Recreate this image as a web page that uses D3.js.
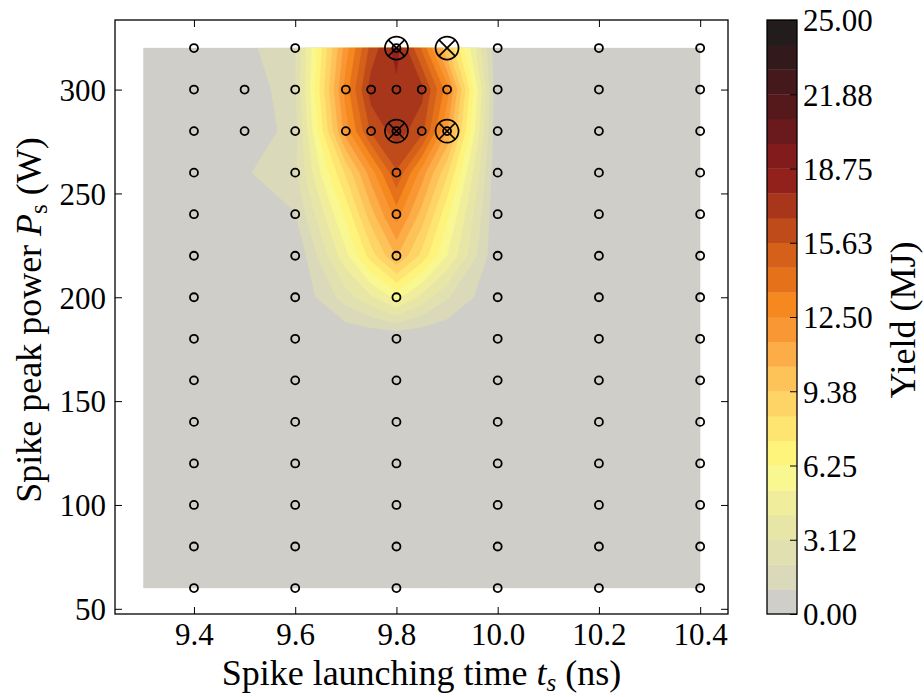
<!DOCTYPE html>
<html><head><meta charset="utf-8">
<script src="https://cdn.jsdelivr.net/npm/d3@7"></script>
<style>
body{margin:0;background:#fff}
text{font-family:"Liberation Serif","Times New Roman",serif;fill:#000}
</style>
</head><body>
<svg id="chart" width="924" height="697"></svg>
<script>
// ---- data grid (spike launching time in ns, spike peak power in W) ----
const times  = [9.3, 9.4, 9.5, 9.6, 9.7, 9.75, 9.8, 9.85, 9.9, 10.0, 10.2, 10.4];
const powers = [320, 300, 280, 260, 240, 220, 200, 180, 160, 140, 120, 100, 80, 60];
// yield (MJ) per row, one value per time column
const yieldP320 = [0, 0, 0.7, 2.0, 12.0, 16.0, 18.2, 14.4, 9.5, 0, 0, 0];
const yieldP300 = [0, 0, 0.0, 2.0, 13.0, 17.2, 17.4, 17.0, 13.0, 0, 0, 0];
const yieldP280 = [0, 0, 0.0, 1.6, 12.0, 15.8, 17.2, 16.0, 11.5, 0, 0, 0];
const yieldP260 = [0, 0, 0.9, 1.9, 8.5, 12.0, 15.5, 12.0, 8.5, 0, 0, 0];
const yieldP240 = [0, 0, 0.5, 1.0, 6.5, 10.0, 13.0, 10.0, 6.5, 0, 0, 0];
const yieldP220 = [0, 0, 0.0, 0.0, 4.9, 7.8, 10.5, 8.0, 5.2, 0, 0, 0];
const yieldP200 = [0, 0, 0.0, 0.0, 2.6, 4.0, 5.5, 3.8, 2.2, 0, 0, 0];
const yieldP180 = [0, 0, 0, 0, 0, 0, 0, 0, 0, 0, 0, 0];
const yieldP160 = [0, 0, 0, 0, 0, 0, 0, 0, 0, 0, 0, 0];
const yieldP140 = [0, 0, 0, 0, 0, 0, 0, 0, 0, 0, 0, 0];
const yieldP120 = [0, 0, 0, 0, 0, 0, 0, 0, 0, 0, 0, 0];
const yieldP100 = [0, 0, 0, 0, 0, 0, 0, 0, 0, 0, 0, 0];
const yieldP80  = [0, 0, 0, 0, 0, 0, 0, 0, 0, 0, 0, 0];
const yieldP60  = [0, 0, 0, 0, 0, 0, 0, 0, 0, 0, 0, 0];

// simulated sample points
const sampleTimes  = [9.4, 9.6, 9.8, 10.0, 10.2, 10.4];
const samplePowers = [60, 80, 100, 120, 140, 160, 180, 200, 220, 240, 260, 280, 300, 320];
const extraTimes   = [9.5, 9.7, 9.75, 9.85, 9.9];
const extraPowers  = [280, 300];
// highlighted (crossed) points
const markTimes  = [9.8, 9.9, 9.8, 9.9];
const markPowers = [320, 320, 280, 280];

// ticks
const xTicks = [9.4, 9.6, 9.8, 10.0, 10.2, 10.4];
const yTicks = [50, 100, 150, 200, 250, 300];
const cbarTicks = [0, 3.125, 6.25, 9.375, 12.5, 15.625, 18.75, 21.875, 25];
const cbarTickLabels = ["0.00","3.12","6.25","9.38","12.50","15.63","18.75","21.88","25.00"];
const levelMax = 25, levelCount = 24;
const bandColors = ["#cfcec8","#dad9b9","#e1e0b0","#e8e6a7","#f0ee9d","#f9f78f",
  "#fef47c","#fee470","#fed466","#fdc258","#fcad48","#fa9735",
  "#f5881e","#e5721a","#d4601a","#bf4b1a","#a8361a","#93211b",
  "#821c1c","#6a1a1c","#56191b","#45191b","#321a1c","#231c1c"];

// ---- layout ----
const svg = d3.select("#chart");
const plot = {left:115, right:728, top:20, bottom:614};
const x = d3.scaleLinear().domain([9.244, 10.455]).range([plot.left, plot.right]);
const y = d3.scaleLinear().domain([47.5, 333.5]).range([plot.bottom, plot.top]);
const levels = d3.range(levelCount + 1).map(i => i * levelMax / levelCount);

// ---- filled contours ----
const values = [].concat(yieldP320, yieldP300, yieldP280, yieldP260, yieldP240, yieldP220,
  yieldP200, yieldP180, yieldP160, yieldP140, yieldP120, yieldP100, yieldP80, yieldP60);
const nx = times.length, ny = powers.length;
function idxToVal(c, arr){
  const t = Math.max(0, Math.min(arr.length - 1, c - 0.5));
  const i = Math.min(arr.length - 2, Math.floor(t));
  const f = t - i;
  return arr[i] + f * (arr[i+1] - arr[i]);
}
const proj = d3.geoTransform({point(px, py){
  this.stream.point(x(idxToVal(px, times)), y(idxToVal(py, powers)));
}});
const gpath = d3.geoPath(proj);
const contours = d3.contours().size([nx, ny]).smooth(true);
const gc = svg.append("g");
for (let k = 0; k < levelCount; k++) {
  const c = contours.contour(values, levels[k]);
  gc.append("path").attr("d", gpath(c)).attr("fill", bandColors[k])
    .attr("stroke", bandColors[k]).attr("stroke-width", 0.3);
}

// ---- axes (inward ticks on all sides) ----
const fs = 31;
const axB = svg.append("g").attr("transform", `translate(0,${plot.bottom})`)
  .call(d3.axisBottom(x).tickValues(xTicks).tickFormat(d3.format(".1f")).tickSize(-7).tickPadding(10));
const axT = svg.append("g").attr("transform", `translate(0,${plot.top})`)
  .call(d3.axisTop(x).tickValues(xTicks).tickFormat("").tickSize(-7));
const axL = svg.append("g").attr("transform", `translate(${plot.left},0)`)
  .call(d3.axisLeft(y).tickValues(yTicks).tickFormat(d3.format("d")).tickSize(-7).tickPadding(9));
const axR = svg.append("g").attr("transform", `translate(${plot.right},0)`)
  .call(d3.axisRight(y).tickValues(yTicks).tickFormat("").tickSize(-7));
[axB, axT, axL, axR].forEach(a => {
  a.select(".domain").remove();
  a.selectAll(".tick line").attr("stroke", "#000").attr("stroke-width", 1);
  a.selectAll(".tick text").style("font-family", '"Liberation Serif",serif').style("font-size", fs + "px").attr("fill", "#000");
});
axB.selectAll(".tick text").attr("dy", "0.72em").attr("y", 9);
axL.selectAll(".tick text").attr("dy", "0.35em");

svg.append("rect").attr("x", plot.left).attr("y", plot.top)
  .attr("width", plot.right - plot.left).attr("height", plot.bottom - plot.top)
  .attr("fill", "none").attr("stroke", "#000").attr("stroke-width", 1.3);

// ---- sample points ----
const pts = [];
samplePowers.forEach(p => sampleTimes.forEach(t => pts.push([t, p])));
extraPowers.forEach(p => extraTimes.forEach(t => pts.push([t, p])));
svg.append("g").selectAll("circle").data(pts).join("circle")
  .attr("cx", d => x(d[0])).attr("cy", d => y(d[1])).attr("r", 4)
  .attr("fill", "none").attr("stroke", "#000").attr("stroke-width", 1.8);

const marks = markTimes.map((t, i) => [t, markPowers[i]]);
const mg = svg.append("g").selectAll("g").data(marks).join("g")
  .attr("transform", d => `translate(${x(d[0])},${y(d[1])})`);
const R = 11.5, r45 = R * Math.SQRT1_2;
mg.append("circle").attr("r", R).attr("fill", "none").attr("stroke", "#000").attr("stroke-width", 1.7);
mg.append("line").attr("x1", -r45).attr("y1", -r45).attr("x2", r45).attr("y2", r45).attr("stroke", "#000").attr("stroke-width", 1.7);
mg.append("line").attr("x1", -r45).attr("y1", r45).attr("x2", r45).attr("y2", -r45).attr("stroke", "#000").attr("stroke-width", 1.7);

// ---- axis titles ----
const xt = svg.append("text").attr("x", (plot.left + plot.right) / 2).attr("y", 685)
  .attr("text-anchor", "middle").style("font-size", "36px");
xt.append("tspan").text("Spike launching time ");
xt.append("tspan").attr("font-style", "italic").text("t");
xt.append("tspan").attr("font-style", "italic").attr("font-size", "25px").attr("dy", 6).text("s");
xt.append("tspan").attr("dy", -6).text(" (ns)");

const yt = svg.append("text").attr("transform", `translate(41,${(plot.top + plot.bottom) / 2 + 3}) rotate(-90)`)
  .attr("text-anchor", "middle").style("font-size", "36px");
yt.append("tspan").text("Spike peak power ");
yt.append("tspan").attr("font-style", "italic").text("P");
yt.append("tspan").attr("font-size", "25px").attr("dy", 6).text("s");
yt.append("tspan").attr("dy", -6).text(" (W)");

// ---- colorbar ----
const cb = {left:767, right:797, top:20, bottom:614};
const yc = d3.scaleLinear().domain([0, levelMax]).range([cb.bottom, cb.top]);
svg.append("g").selectAll("rect").data(d3.range(levelCount)).join("rect")
  .attr("x", cb.left).attr("width", cb.right - cb.left)
  .attr("y", k => yc(levels[k + 1])).attr("height", k => yc(levels[k]) - yc(levels[k + 1]) + 0.3)
  .attr("fill", k => bandColors[k]);
const axC = svg.append("g").attr("transform", `translate(${cb.right},0)`)
  .call(d3.axisRight(yc).tickValues(cbarTicks).tickFormat((d, i) => cbarTickLabels[i]).tickSize(-7).tickPadding(6));
axC.select(".domain").remove();
axC.selectAll(".tick line").attr("stroke", "#000");
axC.selectAll(".tick text").style("font-family", '"Liberation Serif",serif').style("font-size", fs + "px").attr("fill", "#000").attr("dy", "0.35em");
svg.append("rect").attr("x", cb.left).attr("y", cb.top)
  .attr("width", cb.right - cb.left).attr("height", cb.bottom - cb.top)
  .attr("fill", "none").attr("stroke", "#000").attr("stroke-width", 1.3);
svg.append("text").attr("transform", `translate(915,${(cb.top + cb.bottom) / 2 + 3}) rotate(-90)`)
  .attr("text-anchor", "middle").style("font-size", "36px").text("Yield (MJ)");
</script>
</body></html>
